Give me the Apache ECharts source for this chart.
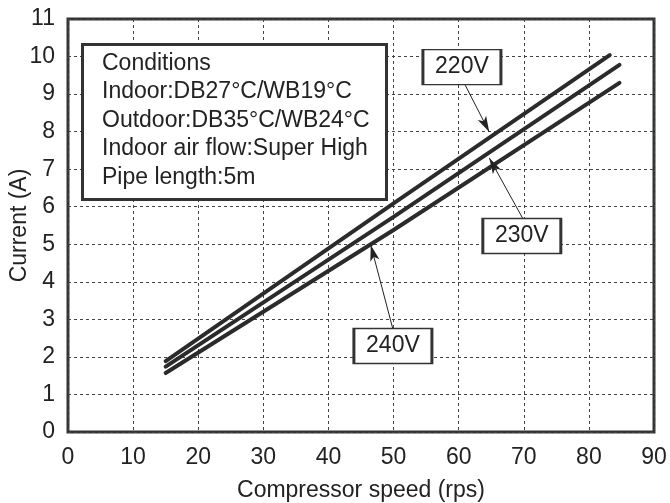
<!DOCTYPE html>
<html>
<head>
<meta charset="utf-8">
<script src="https://cdn.jsdelivr.net/npm/echarts@6/dist/echarts.min.js"></script>
<style>
html,body{margin:0;padding:0;background:#fff;}
#c{width:670px;height:503px;}
</style>
</head>
<body>
<div id="c"></div>
<script>
// Data
const speed220 = [15, 50, 83.2];
const current220 = [1.89, 6.09, 10.04];
const speed230 = [15, 50, 84.7];
const current230 = [1.74, 5.73, 9.78];
const speed240 = [15, 50, 84.7];
const current240 = [1.57, 5.38, 9.30];

const seriesNames = ['220V', '230V', '240V'];
// label box centres (data units) and arrow from/to (data units)
const labelPos = [[60.5, 9.72], [69.7, 5.22], [49.9, 2.29]];
const arrowFrom = [[61.0, 9.24], [69.9, 5.67], [49.9, 2.74]];
const arrowTo = [[64.7, 7.99], [64.7, 7.30], [46.5, 4.98]];

const conditionLines = [
  'Conditions',
  'Indoor:DB27°C/WB19°C',
  'Outdoor:DB35°C/WB24°C',
  'Indoor air flow:Super High',
  'Pipe length:5m'
];

const xTicks = {min: 0, max: 90, interval: 10};
const yTicks = {min: 0, max: 11, interval: 1};

const FONT = 'Liberation Sans, Arial, sans-serif';
const INK = '#2b2b2b';

function zip(xs, ys) { return xs.map((x, i) => [x, ys[i]]); }
const allData = [zip(speed220, current220), zip(speed230, current230), zip(speed240, current240)];

const chart = echarts.init(document.getElementById('c'));
chart.setOption({
  animation: false,
  backgroundColor: '#fff',
  title: {
    show: true,
    text: conditionLines.join('\n'),
    left: 82,
    top: 44,
    padding: [5, 17, 8, 20],
    borderColor: '#333',
    borderWidth: 3,
    backgroundColor: '#fff',
    textStyle: {fontFamily: FONT, fontSize: 23, fontWeight: 'normal', color: '#222', lineHeight: 28.5}
  },
  grid: {
    left: 68, right: 16, top: 19, bottom: 71,
    containLabel: false,
    outerBoundsMode: 'none',
    show: true, borderColor: '#333', borderWidth: 3, backgroundColor: 'transparent'
  },
  xAxis: {
    type: 'value',
    min: xTicks.min, max: xTicks.max, interval: xTicks.interval,
    name: 'Compressor speed (rps)',
    nameLocation: 'middle', nameGap: 47, nameMoveOverlap: false,
    nameTextStyle: {fontFamily: FONT, fontSize: 23, color: '#222'},
    axisLine: {show: false},
    axisTick: {show: false},
    axisLabel: {fontFamily: FONT, fontSize: 23, color: '#222', margin: 14},
    splitLine: {show: true, lineStyle: {color: '#444', width: 1, type: [3, 3]}}
  },
  yAxis: {
    type: 'value',
    min: yTicks.min, max: yTicks.max, interval: yTicks.interval,
    name: 'Current (A)',
    nameLocation: 'middle', nameGap: 37, nameMoveOverlap: false,
    nameTextStyle: {fontFamily: FONT, fontSize: 23, color: '#222'},
    axisLine: {show: false},
    axisTick: {show: false},
    axisLabel: {fontFamily: FONT, fontSize: 23, color: '#222', margin: 13},
    splitLine: {show: true, lineStyle: {color: '#444', width: 1, type: [3, 3]}}
  },
  series: seriesNames.map((name, i) => ({
    name: name,
    type: 'line',
    data: allData[i],
    showSymbol: false,
    symbol: 'none',
    smooth: false,
    lineStyle: {color: INK, width: 4, cap: 'round'},
    z: 3,
    markLine: {
      silent: true,
      symbol: ['none', 'arrow'],
      symbolSize: [7, 16],
      label: {show: false},
      lineStyle: {color: '#222', width: 1, type: 'solid'},
      data: [[{coord: arrowFrom[i]}, {coord: arrowTo[i]}]]
    },
    markPoint: {
      silent: true,
      data: [{
        coord: labelPos[i],
        symbol: 'rect',
        symbolSize: [78, 35],
        itemStyle: {color: '#fff', borderColor: '#333', borderWidth: 2},
        label: {show: true, position: 'inside', formatter: name, fontFamily: FONT, fontSize: 23, color: '#222'}
      }]
    }
  }))
});
</script>
</body>
</html>
